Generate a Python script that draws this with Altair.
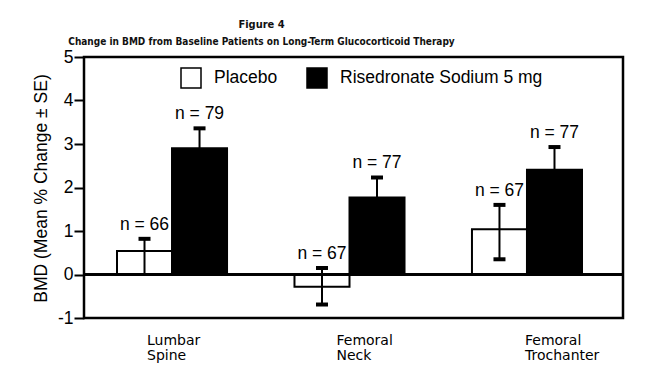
import altair as alt
import pandas as pd

sites = ["Lumbar Spine", "Femoral Neck", "Femoral Trochanter"]
groups = ["Placebo", "Risedronate Sodium 5 mg"]

placebo_mean = [0.54, -0.28, 1.04]
placebo_upper = [0.82, 0.15, 1.60]
placebo_lower = [0.0, -0.69, 0.35]
placebo_n = [66, 67, 67]

rise_mean = [2.90, 1.77, 2.41]
rise_upper = [3.36, 2.23, 2.93]
rise_lower = [2.44, 1.31, 1.89]
rise_n = [79, 77, 77]

y_ticks = [-1, 0, 1, 2, 3, 4, 5]

rows = []
for i, s in enumerate(sites):
    rows.append(dict(site=s, group=groups[0], mean=placebo_mean[i],
                     upper=placebo_upper[i], lower=placebo_lower[i], n=placebo_n[i]))
    rows.append(dict(site=s, group=groups[1], mean=rise_mean[i],
                     upper=rise_upper[i], lower=rise_lower[i], n=rise_n[i]))
df = pd.DataFrame(rows)

FONT = "Liberation Sans, Arial, Helvetica, sans-serif"
TFONT = "Liberation Sans Narrow, DejaVu Sans Condensed, Arial Narrow, sans-serif"

x_enc = alt.X(
    "site:N", sort=sites,
    scale=alt.Scale(range=[33, 498], paddingInner=0.38, paddingOuter=0),
    axis=alt.Axis(
        title=None, ticks=False, domain=False,
        labelExpr="split(datum.label, ' ')",
        labelAlign="left", labelBaseline="top",
        labelOffset={"condition": [
            {"test": "datum.value == 'Lumbar Spine'", "value": -25},
            {"test": "datum.value == 'Femoral Neck'", "value": -13},
        ], "value": -2},
        labelFont="DejaVu Sans", labelFontSize=14, labelColor="black",
        labelLineHeight=15, labelPadding=15, labelAngle=0,
    ),
)
xo_enc = alt.XOffset("group:N", sort=groups, scale=alt.Scale(paddingInner=0, paddingOuter=0))
y_scale = alt.Scale(domain=[-1, 5], nice=False, zero=False)

base = alt.Chart(df).encode(x=x_enc, xOffset=xo_enc)

bars = base.mark_bar(stroke="black", strokeWidth=2).encode(
    y=alt.Y("mean:Q", scale=y_scale, axis=alt.Axis(
        values=y_ticks, title="BMD (Mean % Change ± SE)",
        labelExpr="'' + datum.value",
        labelFont=FONT, labelFontSize=17.5, labelColor="black", labelPadding=1,
        tickSize=10, tickWidth=2, tickColor="black", domain=False, grid=False,
        titleFont=FONT, titleFontSize=17.5, titleFontWeight="normal", titleColor="black",
        titleX=-34, titleY=131, titleAngle=270, titleBaseline="bottom", titleAlign="center",
    )),
    y2=alt.datum(0),
    color=alt.Color("group:N", sort=groups,
                    scale=alt.Scale(domain=groups, range=["white", "black"]),
                    legend=alt.Legend(
                        title=None, orient="none", legendX=96, legendY=10,
                        direction="horizontal", symbolType="square", symbolSize=400,
                        symbolStrokeColor="black", symbolStrokeWidth=1.5,
                        symbolOpacity=1,
                        labelFont=FONT, labelFontSize=17.5, labelColor="black",
                        labelOffset=12, columnPadding=26, labelLimit=400,
                    )),
)

whisk = base.mark_rule(color="black", strokeWidth=2).encode(
    y=alt.Y("lower:Q", scale=y_scale), y2="upper:Q")

cap_hi = base.mark_tick(color="black", size=12, thickness=4, opacity=1).encode(
    y=alt.Y("upper:Q", scale=y_scale))

cap_lo = base.transform_filter(
    "datum.group == 'Placebo' && datum.lower != 0"
).mark_tick(color="black", size=12, thickness=4, opacity=1).encode(
    y=alt.Y("lower:Q", scale=y_scale))

labels = base.transform_calculate(lab="'n = ' + datum.n").mark_text(
    font=FONT, fontSize=17.5, color="black", baseline="alphabetic", dy=-9
).encode(y=alt.Y("upper:Q", scale=y_scale), text="lab:N")

zero = alt.Chart(df).mark_rule(color="black", strokeWidth=2).encode(y=alt.datum(0))

chart = alt.layer(bars, zero, whisk, cap_hi, cap_lo, labels).properties(
    width=539, height=261,
    autosize=alt.AutoSizeParams(type="none"),
    padding={"left": 76, "top": 49, "right": 24, "bottom": 45},
    title=alt.TitleParams(
        text="Figure 4",
        subtitle="Change in BMD from Baseline Patients on Long-Term Glucocorticoid Therapy",
        font=TFONT, fontSize=11, fontWeight="bold", color="#111111",
        subtitleFont=TFONT, subtitleFontSize=10, subtitleFontWeight="bold",
        subtitleColor="#111111",
        subtitlePadding=7, anchor="middle", dx=-92, offset=1,
    ),
).configure(background="white").configure_view(stroke="black", strokeWidth=2.5)

chart.save("out.html", embed_options={"renderer": "svg", "actions": False})
